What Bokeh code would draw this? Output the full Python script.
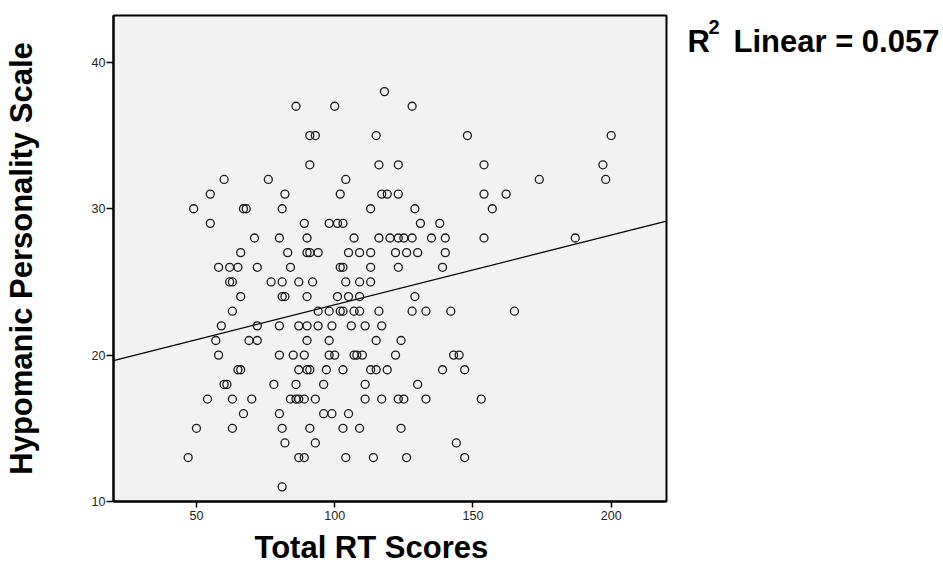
import numpy as np
from bokeh.plotting import figure
from bokeh.models import Range1d, FixedTicker, Title
from bokeh.layouts import row
from bokeh.core.properties import value
from bokeh.embed import file_html
from bokeh.resources import INLINE

# Hypomanic Personality Scale score (rows) and Total RT Scores
score_38 = [118]
score_37 = [86, 100, 128]
score_35 = [91, 93, 115, 148, 200]
score_33 = [91, 116, 123, 154, 197]
score_32 = [60, 76, 104, 174, 198]
score_31 = [55, 82, 102, 117, 119, 123, 154, 162]
score_30 = [49, 67, 68, 81, 113, 129, 157]
score_29 = [55, 89, 98, 101, 103, 131, 138]
score_28 = [71, 80, 90, 107, 116, 120, 123, 125, 128, 135, 140, 154, 187]
score_27 = [66, 83, 90, 91, 94, 105, 109, 113, 122, 126, 130, 140]
score_26 = [58, 62, 65, 72, 84, 102, 103, 113, 123, 139]
score_25 = [62, 63, 77, 81, 87, 92, 104, 109, 113]
score_24 = [66, 81, 82, 90, 101, 105, 109, 129]
score_23 = [63, 94, 98, 102, 103, 107, 109, 116, 128, 133, 142, 165]
score_22 = [59, 72, 80, 87, 90, 94, 99, 106, 111, 117]
score_21 = [57, 69, 72, 90, 98, 115, 124]
score_20 = [58, 80, 85, 89, 98, 100, 107, 108, 110, 122, 143, 145]
score_19 = [65, 66, 87, 90, 91, 97, 103, 113, 115, 119, 139, 147]
score_18 = [60, 61, 78, 86, 96, 111, 130]
score_17 = [54, 63, 70, 84, 86, 87, 89, 93, 111, 117, 123, 125, 133, 153]
score_16 = [67, 80, 96, 99, 105]
score_15 = [50, 63, 81, 91, 103, 109, 124]
score_14 = [82, 93, 144]
score_13 = [47, 87, 89, 104, 114, 126, 147]
score_11 = [81]

rows = {
    38: score_38, 37: score_37, 35: score_35, 33: score_33, 32: score_32,
    31: score_31, 30: score_30, 29: score_29, 28: score_28, 27: score_27,
    26: score_26, 25: score_25, 24: score_24, 23: score_23, 22: score_22,
    21: score_21, 20: score_20, 19: score_19, 18: score_18, 17: score_17,
    16: score_16, 15: score_15, 14: score_14, 13: score_13, 11: score_11,
}

total_rt = []
hypomanic = []
for yv, xs in rows.items():
    for xv in xs:
        total_rt.append(xv)
        hypomanic.append(yv)

x_ticks = [50, 100, 150, 200]
y_ticks = [10, 20, 30, 40]
x_min, x_max = 20, 220
y_min, y_max = 10, 43.2
x_title = "Total RT Scores"
y_title = "Hypomanic Personality Scale"
r2_value = "0.057"

FONT = "Liberation Sans"
H = 572

p = figure(width=676, height=H, output_backend="svg", toolbar_location=None,
           title=None,
           x_range=Range1d(x_min, x_max), y_range=Range1d(y_min, y_max),
           min_border_left=112, min_border_right=10, min_border_top=15,
           min_border_bottom=71)

p.background_fill_color = "#f2f2f2"
p.border_fill_color = "white"
p.outline_line_color = "black"
p.outline_line_width = 2
p.xgrid.visible = False
p.ygrid.visible = False

for ax in (p.xaxis[0], p.yaxis[0]):
    ax.axis_line_color = "black"
    ax.axis_line_width = 2
    ax.major_tick_line_color = "black"
    ax.major_tick_line_width = 1.5
    ax.major_tick_in = 0
    ax.minor_tick_line_color = None
    ax.major_label_text_font = FONT
    ax.major_label_text_font_size = "12.5px"
    ax.major_label_text_color = "#222222"

p.xaxis.ticker = FixedTicker(ticks=x_ticks)
p.yaxis.ticker = FixedTicker(ticks=y_ticks)
p.xaxis.major_tick_out = 6
p.xaxis.major_label_standoff = 3
p.yaxis.major_tick_out = 7
p.yaxis.major_label_standoff = 1

# y axis title
p.yaxis.axis_label = y_title
p.yaxis.axis_label_text_font = FONT
p.yaxis.axis_label_text_font_size = "31px"
p.yaxis.axis_label_text_font_style = "bold"
p.yaxis.axis_label_text_color = "black"
p.yaxis.axis_label_standoff = 50

# x axis title as a title below the axis
p.add_layout(Title(text=x_title, align="left", offset=141, standoff=10,
                   text_font=FONT, text_font_size="31px", text_font_style="bold",
                   text_color="black"), "below")

# fit line
slope, intercept = np.polyfit(np.array(total_rt, float), np.array(hypomanic, float), 1)
lx = np.array([x_min, x_max], float)
p.line(lx, intercept + slope * lx, line_color="black", line_width=1.3)

p.scatter(total_rt, hypomanic, size=8, marker="circle", fill_color=None,
          line_color="#1a1a1a", line_width=1.3)

# side panel with the R^2 annotation
W2 = 266
q = figure(width=W2, height=H, output_backend="svg", toolbar_location=None,
           title=None,
           x_range=Range1d(0, W2), y_range=Range1d(H, 0),
           x_axis_type=None, y_axis_type=None, min_border=0)
q.outline_line_color = None
q.background_fill_color = "white"
q.border_fill_color = "white"
q.grid.visible = False

q.text(x=[11], y=[31], text=["R"], text_font=value(FONT), text_font_size=value("31px"),
       text_font_style="bold", text_align="left", text_baseline="alphabetic",
       text_color="black")
q.text(x=[32], y=[14], text=["2"], text_font=value(FONT), text_font_size=value("20px"),
       text_font_style="bold", text_align="left", text_baseline="alphabetic",
       text_color="black")
q.text(x=[57], y=[31], text=["Linear = " + r2_value], text_font=value(FONT),
       text_font_size=value("31px"), text_font_style="bold", text_align="left",
       text_baseline="alphabetic", text_color="black")

layout = row(p, q, spacing=0)
open("out.html", "w").write(file_html(layout, INLINE))
